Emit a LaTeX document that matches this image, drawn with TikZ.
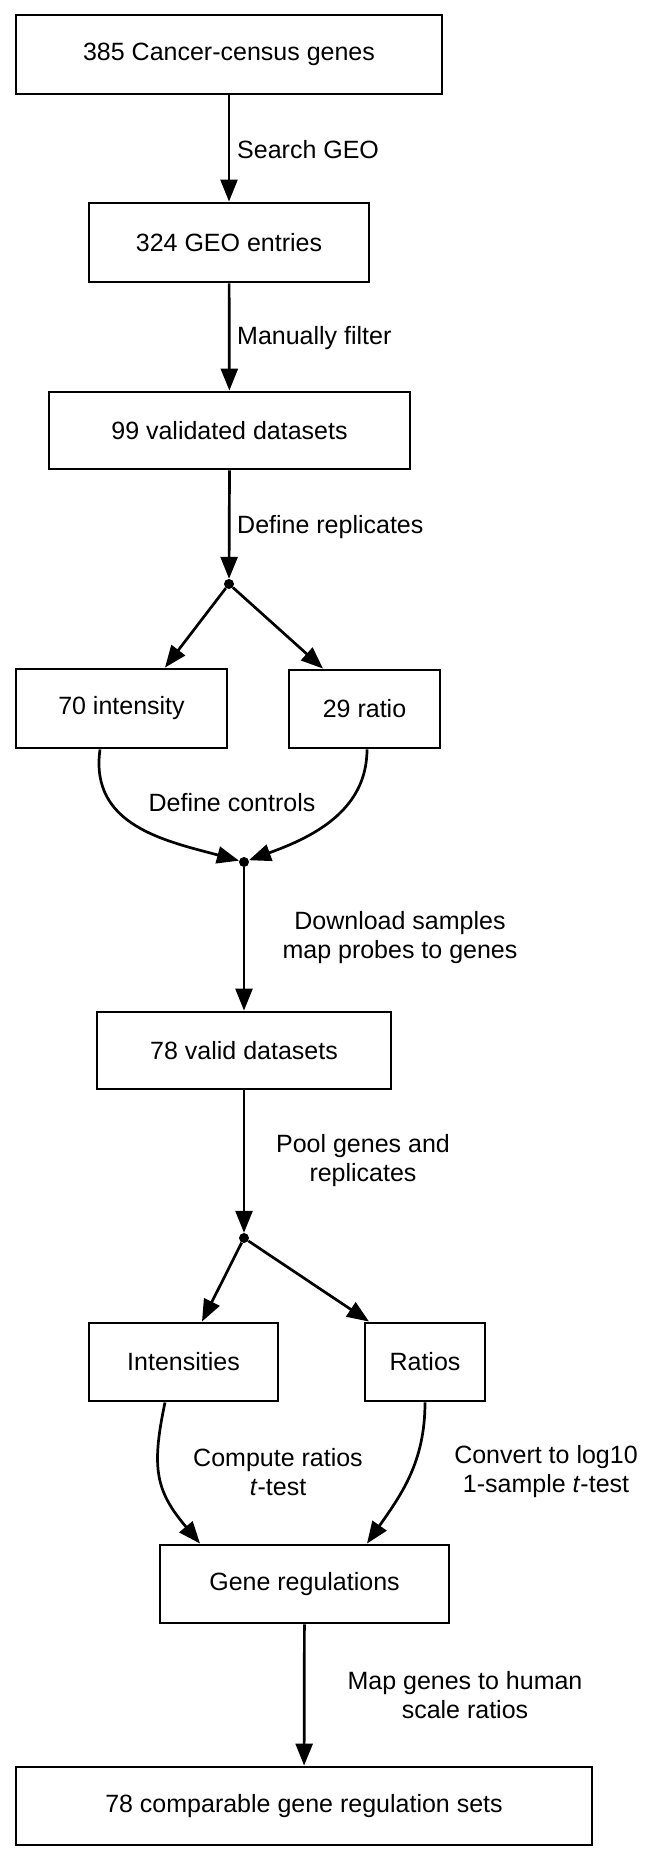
\documentclass[tikz,border=0pt]{standalone}
\usepackage{fontspec}
\setmainfont{Liberation Sans}
\usetikzlibrary{arrows.meta,calc}
\tikzset{
  box/.style={draw, line width=2.9pt, inner sep=0pt, align=center, font=\fontsize{25}{29}\selectfont},
  lbl/.style={inner sep=0pt, align=center, font=\fontsize{25}{29}\selectfont},
  arr/.style={line width=2.7pt, -{Triangle[length=22pt,width=17pt]}},
  dot/.style={circle, fill=black, minimum size=10pt, inner sep=0pt},
}
\begin{document}
\begin{tikzpicture}[x=1pt,y=-1pt]
\useasboundingbox (0,0) rectangle (650,1862);
% boxes
\node[box, minimum width=426pt, minimum height=79pt] (b1) at (229,54.5) {385 Cancer-census genes};
\node[box, minimum width=280pt, minimum height=79pt] (b2) at (229,242.5) {324 GEO entries};
\node[box, minimum width=361pt, minimum height=77pt] (b3) at (229.5,430.5) {99 validated datasets};
\node[box, minimum width=211pt, minimum height=79pt] (b4) at (121.5,708.5) {70 intensity};
\node[box, minimum width=151pt, minimum height=78pt] (b5) at (364.5,709) {29 ratio};
\node[box, minimum width=294pt, minimum height=77pt] (b6) at (244,1050.5) {78 valid datasets};
\node[box, minimum width=189pt, minimum height=78pt] (b7) at (183.5,1362) {Intensities};
\node[box, minimum width=120pt, minimum height=78pt] (b8) at (425,1362) {Ratios};
\node[box, minimum width=289pt, minimum height=78pt] (b9) at (304.5,1584) {Gene regulations};
\node[box, minimum width=576pt, minimum height=78pt] (b10) at (304,1806) {78 comparable gene regulation sets};
% junctions
\node[dot] (j1) at (229,584) {};
\node[dot] (j2) at (244,862) {};
\node[dot] (j3) at (244,1238) {};
% labels
\node[lbl, anchor=west] (l1) at (237,150) {Search GEO};
\node[lbl, anchor=west] (l2) at (237,338) {Manually filter};
\node[lbl, anchor=west] (l3) at (237,527) {Define replicates};
\node[lbl] (l4) at (232,803) {Define controls};
\node[lbl] (l5) at (400,938) {Download samples\\map probes to genes};
\node[lbl] (l6) at (363,1161) {Pool genes and\\replicates};
\node[lbl] (l7) at (278,1472) {Compute ratios\\\textit{t}-test};
\node[lbl] (l8) at (546,1472) {Convert to log10\\1-sample \textit{t}-test};
\node[lbl] (l9) at (465,1695) {Map genes to human\\scale ratios};
% connectors
\draw[arr] (b1) -- (b2);
\draw[arr] (b2) -- (b3);
\draw[arr] (b3.south) -- (j1);
\draw[arr] (j1) -- ([xshift=43.5pt]b4.north);
\draw[arr] (j1) -- ([xshift=-41.5pt]b5.north);
\draw[arr] ([xshift=-21.5pt]b4.south) to[out=-98, in=165, looseness=1.1] (j2);
\draw[arr] ([xshift=2.5pt]b5.south) to[out=-90, in=20, looseness=1.0] (j2);
\draw[arr] (j2) -- (b6.north);
\draw[arr] (b6.south) -- (j3);
\draw[arr] (j3) -- ([xshift=18.5pt]b7.north);
\draw[arr] (j3) -- ([xshift=-56pt]b8.north);
\draw[arr] ([xshift=-18.5pt]b7.south) to[out=-102, in=130, looseness=1.2] ([xshift=-104.5pt]b9.north);
\draw[arr] (b8.south) to[out=-90, in=55, looseness=1.0] ([xshift=62.5pt]b9.north);
\draw[arr] (b9) -- (b10);
\end{tikzpicture}
\end{document}
